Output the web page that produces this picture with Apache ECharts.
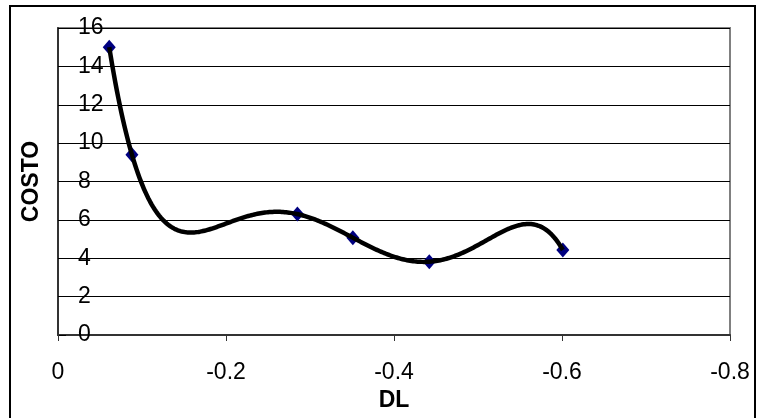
<!DOCTYPE html>
<html>
<head>
<meta charset="utf-8">
<script src="https://cdn.jsdelivr.net/npm/echarts@6/dist/echarts.min.js"></script>
<style>
html,body{margin:0;padding:0;background:#fff;}
#chart{width:757px;height:418px;}
</style>
</head>
<body>
<div id="chart"></div>
<script>
// Data
const dlValues = [-0.061, -0.088, -0.285, -0.351, -0.442, -0.601];
const costoValues = [15.0, 9.4, 6.3, 5.07, 3.82, 4.43];
const xAxisTicks = [0, -0.2, -0.4, -0.6, -0.8];
const yAxisTicks = [0, 2, 4, 6, 8, 10, 12, 14, 16];
const xAxisTitle = 'DL';
const yAxisTitle = 'COSTO';
const trendOrder = 5; // polynomial trendline through the series (6 points -> exact fit)

const points = dlValues.map((x, i) => [x, costoValues[i]]);

// Polynomial trendline of order 5 through the 6 points, evaluated in Lagrange form
function trend(x) {
  let sum = 0;
  for (let i = 0; i < dlValues.length; i++) {
    let term = costoValues[i];
    for (let j = 0; j < dlValues.length; j++) {
      if (j !== i) term *= (x - dlValues[j]) / (dlValues[i] - dlValues[j]);
    }
    sum += term;
  }
  return sum;
}

const FONT = 'Liberation Sans, Arial, sans-serif';
const chart = echarts.init(document.getElementById('chart'));
chart.setOption({
  animation: false,
  backgroundColor: '#fff',
  graphic: [{
    type: 'rect', shape: {x: 10, y: 6, width: 745, height: 420},
    style: {fill: 'none', stroke: '#000', lineWidth: 2}, silent: true, z: -10
  }],
  grid: {left: 58, top: 28, right: 27, bottom: 83, show: true, borderColor: '#808080', borderWidth: 2},
  xAxis: {
    type: 'value', min: -0.8, max: 0, interval: 0.2, inverse: true,
    name: xAxisTitle, nameLocation: 'middle', nameGap: 47,
    nameTextStyle: {fontFamily: FONT, fontSize: 23, fontWeight: 'bold', color: '#000'},
    axisLine: {show: true, onZero: false, lineStyle: {color: '#333', width: 2}},
    axisTick: {show: true, length: 6, lineStyle: {color: '#333'}},
    axisLabel: {margin: 26, fontFamily: FONT, fontSize: 23, color: '#000'},
    splitLine: {show: false}
  },
  yAxis: {
    type: 'value', min: 0, max: 16, interval: 2,
    name: yAxisTitle, nameLocation: 'middle', nameGap: 15,
    nameTextStyle: {fontFamily: FONT, fontSize: 23, fontWeight: 'bold', color: '#000'},
    axisLine: {show: true, lineStyle: {color: '#333', width: 2}},
    axisTick: {show: true, inside: true, length: 8, lineStyle: {color: '#000'}},
    axisLabel: {inside: true, margin: 20, fontFamily: FONT, fontSize: 23, color: '#000'},
    splitLine: {show: true, lineStyle: {color: '#000', width: 1}}
  },
  series: [
    {type: 'scatter', data: points, symbol: 'diamond', symbolSize: [13, 15],
      itemStyle: {color: '#000080', opacity: 1}, z: 3},
    {
      type: 'custom', data: points, z: 4,
      renderItem: function (params, api) {
        if (params.dataIndex !== 0) return null;
        const x0 = Math.max(...dlValues), x1 = Math.min(...dlValues);
        const pts = [];
        const N = 300;
        for (let k = 0; k <= N; k++) {
          const x = x0 + (x1 - x0) * k / N;
          pts.push(api.coord([x, trend(x)]));
        }
        return {type: 'polyline', shape: {points: pts},
          style: {fill: 'none', stroke: '#000', lineWidth: 4.5, lineJoin: 'round', lineCap: 'butt'}};
      }
    }
  ]
});
</script>
</body>
</html>
